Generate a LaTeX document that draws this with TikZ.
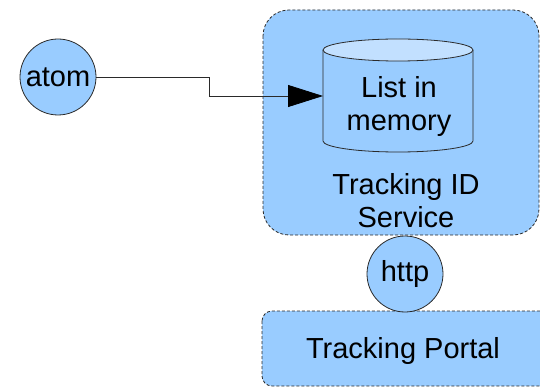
\documentclass[tikz,border=0pt]{standalone}
\usepackage{fontspec}
\setmainfont{Liberation Sans}
\usetikzlibrary{arrows.meta}
\definecolor{fillblue}{HTML}{99CCFF}
\definecolor{topblue}{HTML}{C2E0FF}
\definecolor{edge}{HTML}{2A2A2A}
\begin{document}
\begin{tikzpicture}[x=1pt,y=-1pt,
  txt/.style={font=\fontsize{29}{33}\selectfont, align=center, inner sep=0pt},
  dashbox/.style={fill=fillblue, draw=edge, line width=0.8pt, dash pattern=on 3pt off 2pt},
  roundnode/.style={circle, fill=fillblue, draw=edge, line width=0.8pt, minimum size=76pt, inner sep=0pt, font=\fontsize{29}{33}\selectfont},
  conn/.style={draw=edge, line width=0.8pt}
]
\useasboundingbox (0,0) rectangle (540,387);
\begin{scope}
\clip (0,0) rectangle (540,387);
% service box
\path[dashbox, rounded corners=26pt] (263,10) rectangle (539,235);
% portal box
\path[dashbox, rounded corners=10pt] (262,311) rectangle (560,386);
\end{scope}
% cylinder
\path[fill=fillblue, draw=edge, line width=0.8pt] (323,50) -- (323,141) arc[start angle=180, end angle=360, x radius=75pt, y radius=11pt] -- (473,50);
\path[fill=topblue, draw=edge, line width=0.8pt] (398,50) ellipse[x radius=75pt, y radius=11pt];
\coordinate (cylleft) at (323,96);
\node[txt] (list) at (399,107) {List in\\memory};
\node[txt] (svc) at (406,201) {Tracking ID\\Service};
\node[txt] (portal) at (403,351) {Tracking Portal};
\node[roundnode] (atom) at (58,77) {atom};
\node[roundnode] (http) at (405,274) {http};
\coordinate (bend) at (209,77);
\draw[conn, -{Triangle[length=35pt, width=22pt, fill=black, color=black]}] (atom.east) -- (bend) |- (cylleft);
\end{tikzpicture}
\end{document}
